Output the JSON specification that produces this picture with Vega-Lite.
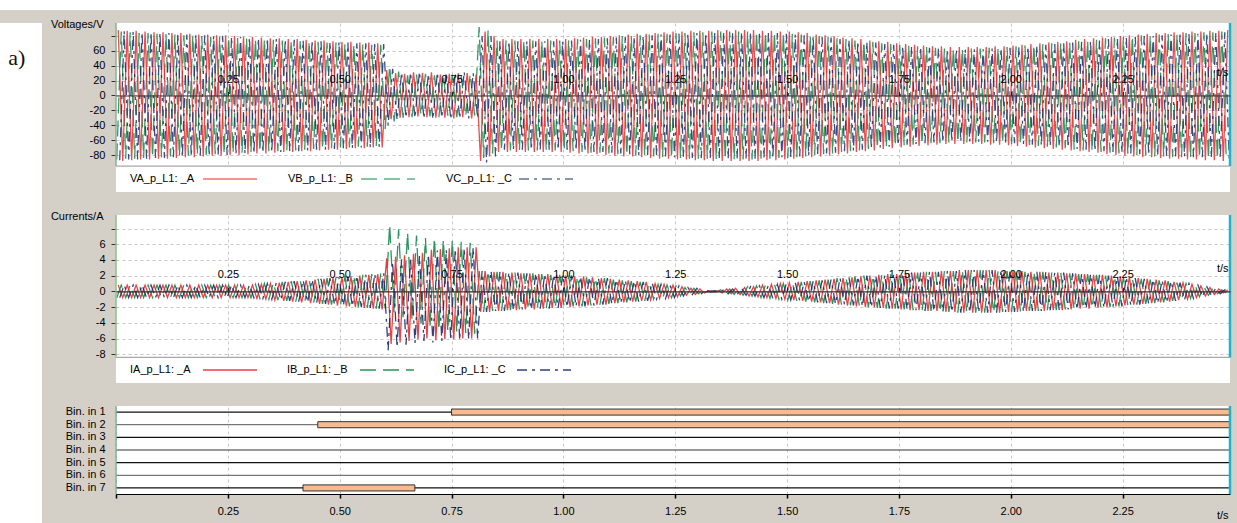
{
"$schema":"https://vega.github.io/schema/vega-lite/v6.json",
"background":"#d4d0c8",
"padding":0,
"config":{
 "font":"Liberation Sans",
 "view":{"stroke":null},
 "axis":{"labelFont":"Liberation Sans","labelFontSize":11,"labelColor":"#000","titleFont":"Liberation Sans","titleFontSize":11,"titleFontWeight":"normal","titleColor":"#000","gridColor":"#c8c8c8","gridDash":[3,3],"gridWidth":1,"tickColor":"#333","labelFlush":false,"labelOverlap":false},
 "legend":{"labelFont":"Liberation Sans","labelFontSize":11,"labelColor":"#000"}
},
"datasets":{
"volt":[
{"t":1.7,"VB":-86},{"t":5,"VA":88},{"t":8.3,"VC":-87},
{"t":11.7,"VB":86},{"t":15,"VA":-88},{"t":18.3,"VC":87},
{"t":21.7,"VB":-85},{"t":25,"VA":87},{"t":28.3,"VC":-86},
{"t":31.7,"VB":85},{"t":35,"VA":-87},{"t":38.3,"VC":86},
{"t":41.7,"VB":-85},{"t":45,"VA":87},{"t":48.3,"VC":-86},
{"t":51.7,"VB":84},{"t":55,"VA":-86},{"t":58.3,"VC":85},
{"t":61.7,"VB":-84},{"t":65,"VA":86},{"t":68.3,"VC":-85},
{"t":71.7,"VB":84},{"t":75,"VA":-86},{"t":78.3,"VC":85},
{"t":81.7,"VB":-83},{"t":85,"VA":85},{"t":88.3,"VC":-84},
{"t":91.7,"VB":83},{"t":95,"VA":-85},{"t":98.3,"VC":84},
{"t":101.7,"VB":-83},{"t":105,"VA":85},{"t":108.3,"VC":-84},
{"t":111.7,"VB":83},{"t":115,"VA":-85},{"t":118.3,"VC":84},
{"t":121.7,"VB":-82},{"t":125,"VA":84},{"t":128.3,"VC":-83},
{"t":131.7,"VB":82},{"t":135,"VA":-84},{"t":138.3,"VC":83},
{"t":141.7,"VB":-82},{"t":145,"VA":84},{"t":148.3,"VC":-83},
{"t":151.7,"VB":81},{"t":155,"VA":-83},{"t":158.3,"VC":82},
{"t":161.7,"VB":-81},{"t":165,"VA":83},{"t":168.3,"VC":-82},
{"t":171.7,"VB":81},{"t":175,"VA":-83},{"t":178.3,"VC":82},
{"t":181.7,"VB":-80},{"t":185,"VA":82},{"t":188.3,"VC":-81},
{"t":191.7,"VB":80},{"t":195,"VA":-82},{"t":198.3,"VC":81},
{"t":201.7,"VB":-80},{"t":205,"VA":82},{"t":208.3,"VC":-81},
{"t":211.7,"VB":79},{"t":215,"VA":-81},{"t":218.3,"VC":80},
{"t":221.7,"VB":-79},{"t":225,"VA":81},{"t":228.3,"VC":-80},
{"t":231.7,"VB":79},{"t":235,"VA":-81},{"t":238.3,"VC":80},
{"t":241.7,"VB":-79},{"t":245,"VA":81},{"t":248.3,"VC":-80},
{"t":251.7,"VB":78},{"t":255,"VA":-80},{"t":258.3,"VC":79},
{"t":261.7,"VB":-78},{"t":265,"VA":80},{"t":268.3,"VC":-79},
{"t":271.7,"VB":78},{"t":275,"VA":-80},{"t":278.3,"VC":79},
{"t":281.7,"VB":-77},{"t":285,"VA":79},{"t":288.3,"VC":-78},
{"t":291.7,"VB":77},{"t":295,"VA":-79},{"t":298.3,"VC":78},
{"t":301.7,"VB":-77},{"t":305,"VA":79},{"t":308.3,"VC":-78},
{"t":311.7,"VB":76},{"t":315,"VA":-78},{"t":318.3,"VC":77},
{"t":321.7,"VB":-76},{"t":325,"VA":78},{"t":328.3,"VC":-77},
{"t":331.7,"VB":76},{"t":335,"VA":-78},{"t":338.3,"VC":77},
{"t":341.7,"VB":-75},{"t":345,"VA":77},{"t":348.3,"VC":-76},
{"t":351.7,"VB":75},{"t":355,"VA":-77},{"t":358.3,"VC":76},
{"t":361.7,"VB":-75},{"t":365,"VA":77},{"t":368.3,"VC":-76},
{"t":371.7,"VB":74},{"t":375,"VA":-76},{"t":378.3,"VC":75},
{"t":381.7,"VB":-74},{"t":385,"VA":76},{"t":388.3,"VC":-75},
{"t":391.7,"VB":74},{"t":395,"VA":-76},{"t":398.3,"VC":75},
{"t":401.7,"VB":-74},{"t":405,"VA":76},{"t":408.3,"VC":-75},
{"t":411.7,"VB":73},{"t":415,"VA":-75},{"t":418.3,"VC":74},
{"t":421.7,"VB":-73},{"t":425,"VA":75},{"t":428.3,"VC":-74},
{"t":431.7,"VB":73},{"t":435,"VA":-75},{"t":438.3,"VC":74},
{"t":441.7,"VB":-72},{"t":445,"VA":74},{"t":448.3,"VC":-73},
{"t":451.7,"VB":72},{"t":455,"VA":-74},{"t":458.3,"VC":73},
{"t":461.7,"VB":-72},{"t":465,"VA":74},{"t":468.3,"VC":-73},
{"t":471.7,"VB":71},{"t":475,"VA":-73},{"t":478.3,"VC":72},
{"t":481.7,"VB":-71},{"t":485,"VA":73},{"t":488.3,"VC":-72},
{"t":491.7,"VB":71},{"t":495,"VA":-73},{"t":498.3,"VC":72},
{"t":501.7,"VB":-70},{"t":505,"VA":72},{"t":508.3,"VC":-71},
{"t":511.7,"VB":70},{"t":515,"VA":-72},{"t":518.3,"VC":71},
{"t":521.7,"VB":-70},{"t":525,"VA":72},{"t":528.3,"VC":-71},
{"t":531.7,"VB":69},{"t":535,"VA":-71},{"t":538.3,"VC":70},
{"t":541.7,"VB":-69},{"t":545,"VA":71},{"t":548.3,"VC":-70},
{"t":551.7,"VB":69},{"t":555,"VA":-71},{"t":558.3,"VC":70},
{"t":561.7,"VB":-69},{"t":565,"VA":71},{"t":568.3,"VC":-70},
{"t":571.7,"VB":68},{"t":575,"VA":-70},{"t":578.3,"VC":69},
{"t":581.7,"VB":-68},{"t":585,"VA":70},{"t":588.3,"VC":-69},
{"t":591.7,"VB":68},{"t":595,"VA":-70},{"t":598.3,"VC":69},
{"t":601.7,"VB":-45},{"t":605,"VA":34},{"t":608.3,"VC":-40},
{"t":611.7,"VB":40},{"t":615,"VA":-32},{"t":618.3,"VC":36},
{"t":621.7,"VB":-35},{"t":625,"VA":30},{"t":628.3,"VC":-33},
{"t":631.7,"VB":32},{"t":635,"VA":-30},{"t":638.3,"VC":31},
{"t":641.7,"VB":-30},{"t":645,"VA":29},{"t":648.3,"VC":-30},
{"t":651.7,"VB":27},{"t":655,"VA":-29},{"t":658.3,"VC":31},
{"t":661.7,"VB":-29},{"t":665,"VA":31},{"t":668.3,"VC":-30},
{"t":671.7,"VB":28},{"t":675,"VA":-28},{"t":678.3,"VC":32},
{"t":681.7,"VB":-26},{"t":685,"VA":30},{"t":688.3,"VC":-31},
{"t":691.7,"VB":29},{"t":695,"VA":-29},{"t":698.3,"VC":29},
{"t":701.7,"VB":-28},{"t":705,"VA":31},{"t":708.3,"VC":-32},
{"t":711.7,"VB":27},{"t":715,"VA":-30},{"t":718.3,"VC":31},
{"t":721.7,"VB":-29},{"t":725,"VA":28},{"t":728.3,"VC":-30},
{"t":731.7,"VB":28},{"t":735,"VA":-30},{"t":738.3,"VC":31},
{"t":741.7,"VB":-27},{"t":745,"VA":29},{"t":748.3,"VC":-32},
{"t":751.7,"VB":28},{"t":755,"VA":-31},{"t":758.3,"VC":30},
{"t":761.7,"VB":-29},{"t":765,"VA":30},{"t":768.3,"VC":-31},
{"t":771.7,"VB":27},{"t":775,"VA":-29},{"t":778.3,"VC":32},
{"t":781.7,"VB":-28},{"t":785,"VA":30},{"t":788.3,"VC":-31},
{"t":791.7,"VB":29},{"t":795,"VA":-31},{"t":798.3,"VC":30},
{"t":801.7,"VB":-27},{"t":805,"VA":28},{"t":808.3,"VC":-30},
{"t":811.7,"VB":92},{"t":815,"VA":-88},{"t":818.3,"VC":80},
{"t":821.7,"VB":-84},{"t":825,"VA":86},{"t":828.3,"VC":-90},
{"t":831.7,"VB":88},{"t":835,"VA":-82},{"t":838.3,"VC":80},
{"t":841.7,"VB":-78},{"t":845,"VA":80},{"t":848.3,"VC":-82},
{"t":851.7,"VB":74},{"t":855,"VA":-76},{"t":858.3,"VC":73},
{"t":861.7,"VB":-74},{"t":865,"VA":76},{"t":868.3,"VC":-73},
{"t":871.7,"VB":74},{"t":875,"VA":-76},{"t":878.3,"VC":73},
{"t":881.7,"VB":-74},{"t":885,"VA":76},{"t":888.3,"VC":-73},
{"t":891.7,"VB":74},{"t":895,"VA":-76},{"t":898.3,"VC":73},
{"t":901.7,"VB":-74},{"t":905,"VA":76},{"t":908.3,"VC":-73},
{"t":911.7,"VB":74},{"t":915,"VA":-76},{"t":918.3,"VC":73},
{"t":921.7,"VB":-74},{"t":925,"VA":76},{"t":928.3,"VC":-73},
{"t":931.7,"VB":74},{"t":935,"VA":-76},{"t":938.3,"VC":73},
{"t":941.7,"VB":-74},{"t":945,"VA":76},{"t":948.3,"VC":-73},
{"t":951.7,"VB":74},{"t":955,"VA":-76},{"t":958.3,"VC":73},
{"t":961.7,"VB":-74},{"t":965,"VA":76},{"t":968.3,"VC":-73},
{"t":971.7,"VB":74},{"t":975,"VA":-76},{"t":978.3,"VC":73},
{"t":981.7,"VB":-74},{"t":985,"VA":76},{"t":988.3,"VC":-73},
{"t":991.7,"VB":74},{"t":995,"VA":-76},{"t":998.3,"VC":73},
{"t":1001.7,"VB":-74},{"t":1005,"VA":76},{"t":1008.3,"VC":-73},
{"t":1011.7,"VB":75},{"t":1015,"VA":-77},{"t":1018.3,"VC":74},
{"t":1021.7,"VB":-75},{"t":1025,"VA":77},{"t":1028.3,"VC":-74},
{"t":1031.7,"VB":76},{"t":1035,"VA":-78},{"t":1038.3,"VC":75},
{"t":1041.7,"VB":-76},{"t":1045,"VA":78},{"t":1048.3,"VC":-75},
{"t":1051.7,"VB":76},{"t":1055,"VA":-78},{"t":1058.3,"VC":75},
{"t":1061.7,"VB":-77},{"t":1065,"VA":79},{"t":1068.3,"VC":-76},
{"t":1071.7,"VB":77},{"t":1075,"VA":-79},{"t":1078.3,"VC":76},
{"t":1081.7,"VB":-77},{"t":1085,"VA":79},{"t":1088.3,"VC":-76},
{"t":1091.7,"VB":78},{"t":1095,"VA":-80},{"t":1098.3,"VC":77},
{"t":1101.7,"VB":-78},{"t":1105,"VA":80},{"t":1108.3,"VC":-77},
{"t":1111.7,"VB":79},{"t":1115,"VA":-81},{"t":1118.3,"VC":78},
{"t":1121.7,"VB":-79},{"t":1125,"VA":81},{"t":1128.3,"VC":-78},
{"t":1131.7,"VB":80},{"t":1135,"VA":-82},{"t":1138.3,"VC":79},
{"t":1141.7,"VB":-80},{"t":1145,"VA":82},{"t":1148.3,"VC":-79},
{"t":1151.7,"VB":80},{"t":1155,"VA":-82},{"t":1158.3,"VC":79},
{"t":1161.7,"VB":-81},{"t":1165,"VA":83},{"t":1168.3,"VC":-80},
{"t":1171.7,"VB":81},{"t":1175,"VA":-83},{"t":1178.3,"VC":80},
{"t":1181.7,"VB":-81},{"t":1185,"VA":83},{"t":1188.3,"VC":-80},
{"t":1191.7,"VB":82},{"t":1195,"VA":-84},{"t":1198.3,"VC":81},
{"t":1201.7,"VB":-82},{"t":1205,"VA":84},{"t":1208.3,"VC":-81},
{"t":1211.7,"VB":83},{"t":1215,"VA":-85},{"t":1218.3,"VC":82},
{"t":1221.7,"VB":-83},{"t":1225,"VA":85},{"t":1228.3,"VC":-82},
{"t":1231.7,"VB":83},{"t":1235,"VA":-85},{"t":1238.3,"VC":82},
{"t":1241.7,"VB":-84},{"t":1245,"VA":86},{"t":1248.3,"VC":-83},
{"t":1251.7,"VB":84},{"t":1255,"VA":-86},{"t":1258.3,"VC":83},
{"t":1261.7,"VB":-84},{"t":1265,"VA":86},{"t":1268.3,"VC":-83},
{"t":1271.7,"VB":84},{"t":1275,"VA":-86},{"t":1278.3,"VC":83},
{"t":1281.7,"VB":-85},{"t":1285,"VA":87},{"t":1288.3,"VC":-84},
{"t":1291.7,"VB":85},{"t":1295,"VA":-87},{"t":1298.3,"VC":84},
{"t":1301.7,"VB":-85},{"t":1305,"VA":87},{"t":1308.3,"VC":-84},
{"t":1311.7,"VB":85},{"t":1315,"VA":-87},{"t":1318.3,"VC":84},
{"t":1321.7,"VB":-85},{"t":1325,"VA":87},{"t":1328.3,"VC":-84},
{"t":1331.7,"VB":86},{"t":1335,"VA":-88},{"t":1338.3,"VC":85},
{"t":1341.7,"VB":-86},{"t":1345,"VA":88},{"t":1348.3,"VC":-85},
{"t":1351.7,"VB":86},{"t":1355,"VA":-88},{"t":1358.3,"VC":85},
{"t":1361.7,"VB":-86},{"t":1365,"VA":88},{"t":1368.3,"VC":-85},
{"t":1371.7,"VB":86},{"t":1375,"VA":-88},{"t":1378.3,"VC":85},
{"t":1381.7,"VB":-86},{"t":1385,"VA":88},{"t":1388.3,"VC":-85},
{"t":1391.7,"VB":86},{"t":1395,"VA":-88},{"t":1398.3,"VC":85},
{"t":1401.7,"VB":-86},{"t":1405,"VA":88},{"t":1408.3,"VC":-85},
{"t":1411.7,"VB":86},{"t":1415,"VA":-88},{"t":1418.3,"VC":85},
{"t":1421.7,"VB":-86},{"t":1425,"VA":88},{"t":1428.3,"VC":-85},
{"t":1431.7,"VB":86},{"t":1435,"VA":-88},{"t":1438.3,"VC":85},
{"t":1441.7,"VB":-85},{"t":1445,"VA":87},{"t":1448.3,"VC":-84},
{"t":1451.7,"VB":85},{"t":1455,"VA":-87},{"t":1458.3,"VC":84},
{"t":1461.7,"VB":-85},{"t":1465,"VA":87},{"t":1468.3,"VC":-84},
{"t":1471.7,"VB":85},{"t":1475,"VA":-87},{"t":1478.3,"VC":84},
{"t":1481.7,"VB":-84},{"t":1485,"VA":86},{"t":1488.3,"VC":-83},
{"t":1491.7,"VB":84},{"t":1495,"VA":-86},{"t":1498.3,"VC":83},
{"t":1501.7,"VB":-84},{"t":1505,"VA":86},{"t":1508.3,"VC":-83},
{"t":1511.7,"VB":83},{"t":1515,"VA":-85},{"t":1518.3,"VC":82},
{"t":1521.7,"VB":-83},{"t":1525,"VA":85},{"t":1528.3,"VC":-82},
{"t":1531.7,"VB":82},{"t":1535,"VA":-84},{"t":1538.3,"VC":81},
{"t":1541.7,"VB":-82},{"t":1545,"VA":84},{"t":1548.3,"VC":-81},
{"t":1551.7,"VB":81},{"t":1555,"VA":-83},{"t":1558.3,"VC":80},
{"t":1561.7,"VB":-80},{"t":1565,"VA":82},{"t":1568.3,"VC":-79},
{"t":1571.7,"VB":80},{"t":1575,"VA":-82},{"t":1578.3,"VC":79},
{"t":1581.7,"VB":-79},{"t":1585,"VA":81},{"t":1588.3,"VC":-78},
{"t":1591.7,"VB":79},{"t":1595,"VA":-81},{"t":1598.3,"VC":78},
{"t":1601.7,"VB":-78},{"t":1605,"VA":80},{"t":1608.3,"VC":-77},
{"t":1611.7,"VB":77},{"t":1615,"VA":-79},{"t":1618.3,"VC":76},
{"t":1621.7,"VB":-76},{"t":1625,"VA":78},{"t":1628.3,"VC":-75},
{"t":1631.7,"VB":76},{"t":1635,"VA":-78},{"t":1638.3,"VC":75},
{"t":1641.7,"VB":-75},{"t":1645,"VA":77},{"t":1648.3,"VC":-74},
{"t":1651.7,"VB":74},{"t":1655,"VA":-76},{"t":1658.3,"VC":73},
{"t":1661.7,"VB":-74},{"t":1665,"VA":76},{"t":1668.3,"VC":-73},
{"t":1671.7,"VB":73},{"t":1675,"VA":-75},{"t":1678.3,"VC":72},
{"t":1681.7,"VB":-72},{"t":1685,"VA":74},{"t":1688.3,"VC":-71},
{"t":1691.7,"VB":72},{"t":1695,"VA":-74},{"t":1698.3,"VC":71},
{"t":1701.7,"VB":-71},{"t":1705,"VA":73},{"t":1708.3,"VC":-70},
{"t":1711.7,"VB":70},{"t":1715,"VA":-72},{"t":1718.3,"VC":69},
{"t":1721.7,"VB":-70},{"t":1725,"VA":72},{"t":1728.3,"VC":-69},
{"t":1731.7,"VB":69},{"t":1735,"VA":-71},{"t":1738.3,"VC":68},
{"t":1741.7,"VB":-68},{"t":1745,"VA":70},{"t":1748.3,"VC":-67},
{"t":1751.7,"VB":68},{"t":1755,"VA":-70},{"t":1758.3,"VC":67},
{"t":1761.7,"VB":-67},{"t":1765,"VA":69},{"t":1768.3,"VC":-66},
{"t":1771.7,"VB":67},{"t":1775,"VA":-69},{"t":1778.3,"VC":66},
{"t":1781.7,"VB":-66},{"t":1785,"VA":68},{"t":1788.3,"VC":-65},
{"t":1791.7,"VB":66},{"t":1795,"VA":-68},{"t":1798.3,"VC":65},
{"t":1801.7,"VB":-65},{"t":1805,"VA":67},{"t":1808.3,"VC":-64},
{"t":1811.7,"VB":65},{"t":1815,"VA":-67},{"t":1818.3,"VC":64},
{"t":1821.7,"VB":-64},{"t":1825,"VA":66},{"t":1828.3,"VC":-63},
{"t":1831.7,"VB":64},{"t":1835,"VA":-66},{"t":1838.3,"VC":63},
{"t":1841.7,"VB":-64},{"t":1845,"VA":66},{"t":1848.3,"VC":-63},
{"t":1851.7,"VB":63},{"t":1855,"VA":-65},{"t":1858.3,"VC":62},
{"t":1861.7,"VB":-63},{"t":1865,"VA":65},{"t":1868.3,"VC":-62},
{"t":1871.7,"VB":63},{"t":1875,"VA":-65},{"t":1878.3,"VC":62},
{"t":1881.7,"VB":-63},{"t":1885,"VA":65},{"t":1888.3,"VC":-62},
{"t":1891.7,"VB":63},{"t":1895,"VA":-65},{"t":1898.3,"VC":62},
{"t":1901.7,"VB":-63},{"t":1905,"VA":65},{"t":1908.3,"VC":-62},
{"t":1911.7,"VB":63},{"t":1915,"VA":-65},{"t":1918.3,"VC":62},
{"t":1921.7,"VB":-63},{"t":1925,"VA":65},{"t":1928.3,"VC":-62},
{"t":1931.7,"VB":63},{"t":1935,"VA":-65},{"t":1938.3,"VC":62},
{"t":1941.7,"VB":-63},{"t":1945,"VA":65},{"t":1948.3,"VC":-62},
{"t":1951.7,"VB":64},{"t":1955,"VA":-66},{"t":1958.3,"VC":63},
{"t":1961.7,"VB":-64},{"t":1965,"VA":66},{"t":1968.3,"VC":-63},
{"t":1971.7,"VB":64},{"t":1975,"VA":-66},{"t":1978.3,"VC":63},
{"t":1981.7,"VB":-64},{"t":1985,"VA":66},{"t":1988.3,"VC":-63},
{"t":1991.7,"VB":65},{"t":1995,"VA":-67},{"t":1998.3,"VC":64},
{"t":2001.7,"VB":-65},{"t":2005,"VA":67},{"t":2008.3,"VC":-64},
{"t":2011.7,"VB":66},{"t":2015,"VA":-68},{"t":2018.3,"VC":65},
{"t":2021.7,"VB":-66},{"t":2025,"VA":68},{"t":2028.3,"VC":-65},
{"t":2031.7,"VB":67},{"t":2035,"VA":-69},{"t":2038.3,"VC":66},
{"t":2041.7,"VB":-67},{"t":2045,"VA":69},{"t":2048.3,"VC":-66},
{"t":2051.7,"VB":68},{"t":2055,"VA":-70},{"t":2058.3,"VC":67},
{"t":2061.7,"VB":-68},{"t":2065,"VA":70},{"t":2068.3,"VC":-67},
{"t":2071.7,"VB":69},{"t":2075,"VA":-71},{"t":2078.3,"VC":68},
{"t":2081.7,"VB":-69},{"t":2085,"VA":71},{"t":2088.3,"VC":-68},
{"t":2091.7,"VB":70},{"t":2095,"VA":-72},{"t":2098.3,"VC":69},
{"t":2101.7,"VB":-70},{"t":2105,"VA":72},{"t":2108.3,"VC":-69},
{"t":2111.7,"VB":71},{"t":2115,"VA":-73},{"t":2118.3,"VC":70},
{"t":2121.7,"VB":-71},{"t":2125,"VA":73},{"t":2128.3,"VC":-70},
{"t":2131.7,"VB":72},{"t":2135,"VA":-74},{"t":2138.3,"VC":71},
{"t":2141.7,"VB":-73},{"t":2145,"VA":75},{"t":2148.3,"VC":-72},
{"t":2151.7,"VB":73},{"t":2155,"VA":-75},{"t":2158.3,"VC":72},
{"t":2161.7,"VB":-74},{"t":2165,"VA":76},{"t":2168.3,"VC":-73},
{"t":2171.7,"VB":74},{"t":2175,"VA":-76},{"t":2178.3,"VC":73},
{"t":2181.7,"VB":-75},{"t":2185,"VA":77},{"t":2188.3,"VC":-74},
{"t":2191.7,"VB":75},{"t":2195,"VA":-77},{"t":2198.3,"VC":74},
{"t":2201.7,"VB":-76},{"t":2205,"VA":78},{"t":2208.3,"VC":-75},
{"t":2211.7,"VB":77},{"t":2215,"VA":-79},{"t":2218.3,"VC":76},
{"t":2221.7,"VB":-77},{"t":2225,"VA":79},{"t":2228.3,"VC":-76},
{"t":2231.7,"VB":78},{"t":2235,"VA":-80},{"t":2238.3,"VC":77},
{"t":2241.7,"VB":-78},{"t":2245,"VA":80},{"t":2248.3,"VC":-77},
{"t":2251.7,"VB":79},{"t":2255,"VA":-81},{"t":2258.3,"VC":78},
{"t":2261.7,"VB":-79},{"t":2265,"VA":81},{"t":2268.3,"VC":-78},
{"t":2271.7,"VB":80},{"t":2275,"VA":-82},{"t":2278.3,"VC":79},
{"t":2281.7,"VB":-80},{"t":2285,"VA":82},{"t":2288.3,"VC":-79},
{"t":2291.7,"VB":81},{"t":2295,"VA":-83},{"t":2298.3,"VC":80},
{"t":2301.7,"VB":-81},{"t":2305,"VA":83},{"t":2308.3,"VC":-80},
{"t":2311.7,"VB":81},{"t":2315,"VA":-83},{"t":2318.3,"VC":80},
{"t":2321.7,"VB":-82},{"t":2325,"VA":84},{"t":2328.3,"VC":-81},
{"t":2331.7,"VB":82},{"t":2335,"VA":-84},{"t":2338.3,"VC":81},
{"t":2341.7,"VB":-82},{"t":2345,"VA":84},{"t":2348.3,"VC":-81},
{"t":2351.7,"VB":83},{"t":2355,"VA":-85},{"t":2358.3,"VC":82},
{"t":2361.7,"VB":-83},{"t":2365,"VA":85},{"t":2368.3,"VC":-82},
{"t":2371.7,"VB":83},{"t":2375,"VA":-85},{"t":2378.3,"VC":82},
{"t":2381.7,"VB":-83},{"t":2385,"VA":85},{"t":2388.3,"VC":-82},
{"t":2391.7,"VB":84},{"t":2395,"VA":-86},{"t":2398.3,"VC":83},
{"t":2401.7,"VB":-84},{"t":2405,"VA":86},{"t":2408.3,"VC":-83},
{"t":2411.7,"VB":84},{"t":2415,"VA":-86},{"t":2418.3,"VC":83},
{"t":2421.7,"VB":-84},{"t":2425,"VA":86},{"t":2428.3,"VC":-83},
{"t":2431.7,"VB":85},{"t":2435,"VA":-87},{"t":2438.3,"VC":84},
{"t":2441.7,"VB":-85},{"t":2445,"VA":87},{"t":2448.3,"VC":-84},
{"t":2451.7,"VB":85},{"t":2455,"VA":-87},{"t":2458.3,"VC":84},
{"t":2461.7,"VB":-85},{"t":2465,"VA":87},{"t":2468.3,"VC":-84},
{"t":2471.7,"VB":86},{"t":2475,"VA":-88},{"t":2478.3,"VC":85},
{"t":2481.7,"VB":-86},{"t":2485,"VA":88},{"t":2488.3,"VC":-85}
],
"curr":[
{"t":1.7,"IB":-0.8},{"t":5,"IA":0.8},{"t":8.3,"IC":-0.8},
{"t":11.7,"IB":0.8},{"t":15,"IA":-0.8},{"t":18.3,"IC":0.8},
{"t":21.7,"IB":-0.8},{"t":25,"IA":0.8},{"t":28.3,"IC":-0.8},
{"t":31.7,"IB":0.8},{"t":35,"IA":-0.8},{"t":38.3,"IC":0.8},
{"t":41.7,"IB":-0.8},{"t":45,"IA":0.8},{"t":48.3,"IC":-0.8},
{"t":51.7,"IB":0.8},{"t":55,"IA":-0.8},{"t":58.3,"IC":0.8},
{"t":61.7,"IB":-0.8},{"t":65,"IA":0.8},{"t":68.3,"IC":-0.8},
{"t":71.7,"IB":0.8},{"t":75,"IA":-0.8},{"t":78.3,"IC":0.8},
{"t":81.7,"IB":-0.8},{"t":85,"IA":0.8},{"t":88.3,"IC":-0.8},
{"t":91.7,"IB":0.8},{"t":95,"IA":-0.8},{"t":98.3,"IC":0.8},
{"t":101.7,"IB":-0.8},{"t":105,"IA":0.8},{"t":108.3,"IC":-0.8},
{"t":111.7,"IB":0.8},{"t":115,"IA":-0.8},{"t":118.3,"IC":0.8},
{"t":121.7,"IB":-0.8},{"t":125,"IA":0.8},{"t":128.3,"IC":-0.8},
{"t":131.7,"IB":0.8},{"t":135,"IA":-0.8},{"t":138.3,"IC":0.8},
{"t":141.7,"IB":-0.8},{"t":145,"IA":0.8},{"t":148.3,"IC":-0.8},
{"t":151.7,"IB":0.8},{"t":155,"IA":-0.8},{"t":158.3,"IC":0.8},
{"t":161.7,"IB":-0.8},{"t":165,"IA":0.8},{"t":168.3,"IC":-0.8},
{"t":171.7,"IB":0.8},{"t":175,"IA":-0.8},{"t":178.3,"IC":0.8},
{"t":181.7,"IB":-0.8},{"t":185,"IA":0.8},{"t":188.3,"IC":-0.8},
{"t":191.7,"IB":0.8},{"t":195,"IA":-0.8},{"t":198.3,"IC":0.8},
{"t":201.7,"IB":-0.8},{"t":205,"IA":0.8},{"t":208.3,"IC":-0.8},
{"t":211.7,"IB":0.8},{"t":215,"IA":-0.8},{"t":218.3,"IC":0.8},
{"t":221.7,"IB":-0.8},{"t":225,"IA":0.8},{"t":228.3,"IC":-0.8},
{"t":231.7,"IB":0.8},{"t":235,"IA":-0.8},{"t":238.3,"IC":0.8},
{"t":241.7,"IB":-0.8},{"t":245,"IA":0.8},{"t":248.3,"IC":-0.8},
{"t":251.7,"IB":0.8},{"t":255,"IA":-0.8},{"t":258.3,"IC":0.8},
{"t":261.7,"IB":-0.8},{"t":265,"IA":0.8},{"t":268.3,"IC":-0.8},
{"t":271.7,"IB":0.8},{"t":275,"IA":-0.8},{"t":278.3,"IC":0.8},
{"t":281.7,"IB":-0.8},{"t":285,"IA":0.8},{"t":288.3,"IC":-0.8},
{"t":291.7,"IB":0.8},{"t":295,"IA":-0.8},{"t":298.3,"IC":0.8},
{"t":301.7,"IB":-0.8},{"t":305,"IA":0.8},{"t":308.3,"IC":-0.8},
{"t":311.7,"IB":0.9},{"t":315,"IA":-0.9},{"t":318.3,"IC":0.9},
{"t":321.7,"IB":-0.9},{"t":325,"IA":0.9},{"t":328.3,"IC":-0.9},
{"t":331.7,"IB":1},{"t":335,"IA":-1},{"t":338.3,"IC":1},
{"t":341.7,"IB":-1},{"t":345,"IA":1},{"t":348.3,"IC":-1},
{"t":351.7,"IB":1.1},{"t":355,"IA":-1.1},{"t":358.3,"IC":1.1},
{"t":361.7,"IB":-1.1},{"t":365,"IA":1.1},{"t":368.3,"IC":-1.1},
{"t":371.7,"IB":1.2},{"t":375,"IA":-1.2},{"t":378.3,"IC":1.2},
{"t":381.7,"IB":-1.2},{"t":385,"IA":1.2},{"t":388.3,"IC":-1.2},
{"t":391.7,"IB":1.3},{"t":395,"IA":-1.3},{"t":398.3,"IC":1.3},
{"t":401.7,"IB":-1.3},{"t":405,"IA":1.3},{"t":408.3,"IC":-1.3},
{"t":411.7,"IB":1.4},{"t":415,"IA":-1.4},{"t":418.3,"IC":1.4},
{"t":421.7,"IB":-1.4},{"t":425,"IA":1.4},{"t":428.3,"IC":-1.4},
{"t":431.7,"IB":1.5},{"t":435,"IA":-1.5},{"t":438.3,"IC":1.5},
{"t":441.7,"IB":-1.5},{"t":445,"IA":1.5},{"t":448.3,"IC":-1.5},
{"t":451.7,"IB":1.6},{"t":455,"IA":-1.6},{"t":458.3,"IC":1.6},
{"t":461.7,"IB":-1.6},{"t":465,"IA":1.6},{"t":468.3,"IC":-1.6},
{"t":471.7,"IB":1.7},{"t":475,"IA":-1.7},{"t":478.3,"IC":1.7},
{"t":481.7,"IB":-1.7},{"t":485,"IA":1.7},{"t":488.3,"IC":-1.7},
{"t":491.7,"IB":1.8},{"t":495,"IA":-1.8},{"t":498.3,"IC":1.8},
{"t":501.7,"IB":-1.8},{"t":505,"IA":1.8},{"t":508.3,"IC":-1.8},
{"t":511.7,"IB":1.9},{"t":515,"IA":-1.9},{"t":518.3,"IC":1.9},
{"t":521.7,"IB":-1.9},{"t":525,"IA":1.9},{"t":528.3,"IC":-1.9},
{"t":531.7,"IB":2},{"t":535,"IA":-2},{"t":538.3,"IC":2},
{"t":541.7,"IB":-2},{"t":545,"IA":2},{"t":548.3,"IC":-2},
{"t":551.7,"IB":2.1},{"t":555,"IA":-2.1},{"t":558.3,"IC":2.1},
{"t":561.7,"IB":-2.1},{"t":565,"IA":2.1},{"t":568.3,"IC":-2.1},
{"t":571.7,"IB":2.2},{"t":575,"IA":-2.2},{"t":578.3,"IC":2.2},
{"t":581.7,"IB":-2.2},{"t":585,"IA":2.2},{"t":588.3,"IC":-2.2},
{"t":591.7,"IB":2.3},{"t":595,"IA":-2.3},{"t":598.3,"IC":2.3},
{"t":601.7,"IB":-2.2},{"t":605,"IA":4.2},{"t":608.3,"IC":-7.5},
{"t":611.7,"IB":8.5},{"t":615,"IA":-6.7},{"t":618.3,"IC":3.7},
{"t":621.7,"IB":-2.8},{"t":625,"IA":4.4},{"t":628.3,"IC":-7.1},
{"t":631.7,"IB":7.9},{"t":635,"IA":-6.5},{"t":638.3,"IC":4.1},
{"t":641.7,"IB":-3.3},{"t":645,"IA":4.6},{"t":648.3,"IC":-6.8},
{"t":651.7,"IB":7.5},{"t":655,"IA":-6.3},{"t":658.3,"IC":4.3},
{"t":661.7,"IB":-3.7},{"t":665,"IA":4.8},{"t":668.3,"IC":-6.6},
{"t":671.7,"IB":7.1},{"t":675,"IA":-6.1},{"t":678.3,"IC":4.5},
{"t":681.7,"IB":-4.1},{"t":685,"IA":4.9},{"t":688.3,"IC":-6.3},
{"t":691.7,"IB":6.8},{"t":695,"IA":-6.0},{"t":698.3,"IC":4.7},
{"t":701.7,"IB":-4.6},{"t":705,"IA":5.3},{"t":708.3,"IC":-6.5},
{"t":711.7,"IB":6.8},{"t":715,"IA":-6.2},{"t":718.3,"IC":5.2},
{"t":721.7,"IB":-4.9},{"t":725,"IA":5.4},{"t":728.3,"IC":-6.3},
{"t":731.7,"IB":6.6},{"t":735,"IA":-6.1},{"t":738.3,"IC":5.3},
{"t":741.7,"IB":-5.1},{"t":745,"IA":5.5},{"t":748.3,"IC":-6.2},
{"t":751.7,"IB":6.5},{"t":755,"IA":-6.1},{"t":758.3,"IC":5.4},
{"t":761.7,"IB":-5.2},{"t":765,"IA":5.6},{"t":768.3,"IC":-6.2},
{"t":771.7,"IB":6.3},{"t":775,"IA":-6.0},{"t":778.3,"IC":5.5},
{"t":781.7,"IB":-5.3},{"t":785,"IA":5.6},{"t":788.3,"IC":-6.1},
{"t":791.7,"IB":6.2},{"t":795,"IA":-6.0},{"t":798.3,"IC":5.6},
{"t":801.7,"IB":-5.4},{"t":805,"IA":5.6},{"t":808.3,"IC":-6.0},
{"t":811.7,"IB":2.6},{"t":815,"IA":-2.6},{"t":818.3,"IC":2.6},
{"t":821.7,"IB":-2.6},{"t":825,"IA":2.6},{"t":828.3,"IC":-2.6},
{"t":831.7,"IB":2.6},{"t":835,"IA":-2.6},{"t":838.3,"IC":2.6},
{"t":841.7,"IB":-2.5},{"t":845,"IA":2.5},{"t":848.3,"IC":-2.5},
{"t":851.7,"IB":2.5},{"t":855,"IA":-2.5},{"t":858.3,"IC":2.5},
{"t":861.7,"IB":-2.5},{"t":865,"IA":2.5},{"t":868.3,"IC":-2.5},
{"t":871.7,"IB":2.4},{"t":875,"IA":-2.4},{"t":878.3,"IC":2.4},
{"t":881.7,"IB":-2.4},{"t":885,"IA":2.4},{"t":888.3,"IC":-2.4},
{"t":891.7,"IB":2.4},{"t":895,"IA":-2.4},{"t":898.3,"IC":2.4},
{"t":901.7,"IB":-2.3},{"t":905,"IA":2.3},{"t":908.3,"IC":-2.3},
{"t":911.7,"IB":2.3},{"t":915,"IA":-2.3},{"t":918.3,"IC":2.3},
{"t":921.7,"IB":-2.3},{"t":925,"IA":2.3},{"t":928.3,"IC":-2.3},
{"t":931.7,"IB":2.3},{"t":935,"IA":-2.3},{"t":938.3,"IC":2.3},
{"t":941.7,"IB":-2.2},{"t":945,"IA":2.2},{"t":948.3,"IC":-2.2},
{"t":951.7,"IB":2.2},{"t":955,"IA":-2.2},{"t":958.3,"IC":2.2},
{"t":961.7,"IB":-2.2},{"t":965,"IA":2.2},{"t":968.3,"IC":-2.2},
{"t":971.7,"IB":2.1},{"t":975,"IA":-2.1},{"t":978.3,"IC":2.1},
{"t":981.7,"IB":-2.1},{"t":985,"IA":2.1},{"t":988.3,"IC":-2.1},
{"t":991.7,"IB":2.1},{"t":995,"IA":-2.1},{"t":998.3,"IC":2.1},
{"t":1001.7,"IB":-2},{"t":1005,"IA":2},{"t":1008.3,"IC":-2},
{"t":1011.7,"IB":2},{"t":1015,"IA":-2},{"t":1018.3,"IC":2},
{"t":1021.7,"IB":-1.9},{"t":1025,"IA":1.9},{"t":1028.3,"IC":-1.9},
{"t":1031.7,"IB":1.9},{"t":1035,"IA":-1.9},{"t":1038.3,"IC":1.9},
{"t":1041.7,"IB":-1.9},{"t":1045,"IA":1.9},{"t":1048.3,"IC":-1.9},
{"t":1051.7,"IB":1.8},{"t":1055,"IA":-1.8},{"t":1058.3,"IC":1.8},
{"t":1061.7,"IB":-1.8},{"t":1065,"IA":1.8},{"t":1068.3,"IC":-1.8},
{"t":1071.7,"IB":1.7},{"t":1075,"IA":-1.7},{"t":1078.3,"IC":1.7},
{"t":1081.7,"IB":-1.7},{"t":1085,"IA":1.7},{"t":1088.3,"IC":-1.7},
{"t":1091.7,"IB":1.7},{"t":1095,"IA":-1.7},{"t":1098.3,"IC":1.7},
{"t":1101.7,"IB":-1.6},{"t":1105,"IA":1.6},{"t":1108.3,"IC":-1.6},
{"t":1111.7,"IB":1.5},{"t":1115,"IA":-1.5},{"t":1118.3,"IC":1.5},
{"t":1121.7,"IB":-1.5},{"t":1125,"IA":1.5},{"t":1128.3,"IC":-1.5},
{"t":1131.7,"IB":1.4},{"t":1135,"IA":-1.4},{"t":1138.3,"IC":1.4},
{"t":1141.7,"IB":-1.4},{"t":1145,"IA":1.4},{"t":1148.3,"IC":-1.4},
{"t":1151.7,"IB":1.3},{"t":1155,"IA":-1.3},{"t":1158.3,"IC":1.3},
{"t":1161.7,"IB":-1.3},{"t":1165,"IA":1.3},{"t":1168.3,"IC":-1.3},
{"t":1171.7,"IB":1.2},{"t":1175,"IA":-1.2},{"t":1178.3,"IC":1.2},
{"t":1181.7,"IB":-1.2},{"t":1185,"IA":1.2},{"t":1188.3,"IC":-1.2},
{"t":1191.7,"IB":1.1},{"t":1195,"IA":-1.1},{"t":1198.3,"IC":1.1},
{"t":1201.7,"IB":-1},{"t":1205,"IA":1},{"t":1208.3,"IC":-1},
{"t":1211.7,"IB":0.9},{"t":1215,"IA":-0.9},{"t":1218.3,"IC":0.9},
{"t":1221.7,"IB":-0.9},{"t":1225,"IA":0.9},{"t":1228.3,"IC":-0.9},
{"t":1231.7,"IB":0.8},{"t":1235,"IA":-0.8},{"t":1238.3,"IC":0.8},
{"t":1241.7,"IB":-0.8},{"t":1245,"IA":0.8},{"t":1248.3,"IC":-0.8},
{"t":1251.7,"IB":0.7},{"t":1255,"IA":-0.7},{"t":1258.3,"IC":0.7},
{"t":1261.7,"IB":-0.6},{"t":1265,"IA":0.6},{"t":1268.3,"IC":-0.6},
{"t":1271.7,"IB":0.5},{"t":1275,"IA":-0.5},{"t":1278.3,"IC":0.5},
{"t":1281.7,"IB":-0.4},{"t":1285,"IA":0.4},{"t":1288.3,"IC":-0.4},
{"t":1291.7,"IB":0.4},{"t":1295,"IA":-0.4},{"t":1298.3,"IC":0.4},
{"t":1301.7,"IB":-0.3},{"t":1305,"IA":0.3},{"t":1308.3,"IC":-0.3},
{"t":1311.7,"IB":0.2},{"t":1315,"IA":-0.2},{"t":1318.3,"IC":0.2},
{"t":1321.7,"IB":-0.1},{"t":1325,"IA":0.1},{"t":1328.3,"IC":-0.1},
{"t":1331.7,"IB":0.1},{"t":1335,"IA":-0.1},{"t":1338.3,"IC":0.1},
{"t":1341.7,"IB":-0.1},{"t":1345,"IA":0.1},{"t":1348.3,"IC":-0.1},
{"t":1351.7,"IB":0.2},{"t":1355,"IA":-0.2},{"t":1358.3,"IC":0.2},
{"t":1361.7,"IB":-0.3},{"t":1365,"IA":0.3},{"t":1368.3,"IC":-0.3},
{"t":1371.7,"IB":0.3},{"t":1375,"IA":-0.3},{"t":1378.3,"IC":0.3},
{"t":1381.7,"IB":-0.4},{"t":1385,"IA":0.4},{"t":1388.3,"IC":-0.4},
{"t":1391.7,"IB":0.4},{"t":1395,"IA":-0.4},{"t":1398.3,"IC":0.4},
{"t":1401.7,"IB":-0.5},{"t":1405,"IA":0.5},{"t":1408.3,"IC":-0.5},
{"t":1411.7,"IB":0.6},{"t":1415,"IA":-0.6},{"t":1418.3,"IC":0.6},
{"t":1421.7,"IB":-0.6},{"t":1425,"IA":0.6},{"t":1428.3,"IC":-0.6},
{"t":1431.7,"IB":0.7},{"t":1435,"IA":-0.7},{"t":1438.3,"IC":0.7},
{"t":1441.7,"IB":-0.8},{"t":1445,"IA":0.8},{"t":1448.3,"IC":-0.8},
{"t":1451.7,"IB":0.8},{"t":1455,"IA":-0.8},{"t":1458.3,"IC":0.8},
{"t":1461.7,"IB":-0.9},{"t":1465,"IA":0.9},{"t":1468.3,"IC":-0.9},
{"t":1471.7,"IB":0.9},{"t":1475,"IA":-0.9},{"t":1478.3,"IC":0.9},
{"t":1481.7,"IB":-1},{"t":1485,"IA":1},{"t":1488.3,"IC":-1},
{"t":1491.7,"IB":1},{"t":1495,"IA":-1},{"t":1498.3,"IC":1},
{"t":1501.7,"IB":-1.1},{"t":1505,"IA":1.1},{"t":1508.3,"IC":-1.1},
{"t":1511.7,"IB":1.1},{"t":1515,"IA":-1.1},{"t":1518.3,"IC":1.1},
{"t":1521.7,"IB":-1.2},{"t":1525,"IA":1.2},{"t":1528.3,"IC":-1.2},
{"t":1531.7,"IB":1.2},{"t":1535,"IA":-1.2},{"t":1538.3,"IC":1.2},
{"t":1541.7,"IB":-1.3},{"t":1545,"IA":1.3},{"t":1548.3,"IC":-1.3},
{"t":1551.7,"IB":1.3},{"t":1555,"IA":-1.3},{"t":1558.3,"IC":1.3},
{"t":1561.7,"IB":-1.4},{"t":1565,"IA":1.4},{"t":1568.3,"IC":-1.4},
{"t":1571.7,"IB":1.4},{"t":1575,"IA":-1.4},{"t":1578.3,"IC":1.4},
{"t":1581.7,"IB":-1.5},{"t":1585,"IA":1.5},{"t":1588.3,"IC":-1.5},
{"t":1591.7,"IB":1.5},{"t":1595,"IA":-1.5},{"t":1598.3,"IC":1.5},
{"t":1601.7,"IB":-1.6},{"t":1605,"IA":1.6},{"t":1608.3,"IC":-1.6},
{"t":1611.7,"IB":1.7},{"t":1615,"IA":-1.7},{"t":1618.3,"IC":1.7},
{"t":1621.7,"IB":-1.7},{"t":1625,"IA":1.7},{"t":1628.3,"IC":-1.7},
{"t":1631.7,"IB":1.8},{"t":1635,"IA":-1.8},{"t":1638.3,"IC":1.8},
{"t":1641.7,"IB":-1.8},{"t":1645,"IA":1.8},{"t":1648.3,"IC":-1.8},
{"t":1651.7,"IB":1.9},{"t":1655,"IA":-1.9},{"t":1658.3,"IC":1.9},
{"t":1661.7,"IB":-1.9},{"t":1665,"IA":1.9},{"t":1668.3,"IC":-1.9},
{"t":1671.7,"IB":2},{"t":1675,"IA":-2},{"t":1678.3,"IC":2},
{"t":1681.7,"IB":-2},{"t":1685,"IA":2},{"t":1688.3,"IC":-2},
{"t":1691.7,"IB":2},{"t":1695,"IA":-2},{"t":1698.3,"IC":2},
{"t":1701.7,"IB":-2.1},{"t":1705,"IA":2.1},{"t":1708.3,"IC":-2.1},
{"t":1711.7,"IB":2.1},{"t":1715,"IA":-2.1},{"t":1718.3,"IC":2.1},
{"t":1721.7,"IB":-2.2},{"t":1725,"IA":2.2},{"t":1728.3,"IC":-2.2},
{"t":1731.7,"IB":2.2},{"t":1735,"IA":-2.2},{"t":1738.3,"IC":2.2},
{"t":1741.7,"IB":-2.2},{"t":1745,"IA":2.2},{"t":1748.3,"IC":-2.2},
{"t":1751.7,"IB":2.3},{"t":1755,"IA":-2.3},{"t":1758.3,"IC":2.3},
{"t":1761.7,"IB":-2.3},{"t":1765,"IA":2.3},{"t":1768.3,"IC":-2.3},
{"t":1771.7,"IB":2.4},{"t":1775,"IA":-2.4},{"t":1778.3,"IC":2.4},
{"t":1781.7,"IB":-2.4},{"t":1785,"IA":2.4},{"t":1788.3,"IC":-2.4},
{"t":1791.7,"IB":2.4},{"t":1795,"IA":-2.4},{"t":1798.3,"IC":2.4},
{"t":1801.7,"IB":-2.5},{"t":1805,"IA":2.5},{"t":1808.3,"IC":-2.5},
{"t":1811.7,"IB":2.5},{"t":1815,"IA":-2.5},{"t":1818.3,"IC":2.5},
{"t":1821.7,"IB":-2.5},{"t":1825,"IA":2.5},{"t":1828.3,"IC":-2.5},
{"t":1831.7,"IB":2.5},{"t":1835,"IA":-2.5},{"t":1838.3,"IC":2.5},
{"t":1841.7,"IB":-2.6},{"t":1845,"IA":2.6},{"t":1848.3,"IC":-2.6},
{"t":1851.7,"IB":2.6},{"t":1855,"IA":-2.6},{"t":1858.3,"IC":2.6},
{"t":1861.7,"IB":-2.6},{"t":1865,"IA":2.6},{"t":1868.3,"IC":-2.6},
{"t":1871.7,"IB":2.6},{"t":1875,"IA":-2.6},{"t":1878.3,"IC":2.6},
{"t":1881.7,"IB":-2.7},{"t":1885,"IA":2.7},{"t":1888.3,"IC":-2.7},
{"t":1891.7,"IB":2.7},{"t":1895,"IA":-2.7},{"t":1898.3,"IC":2.7},
{"t":1901.7,"IB":-2.7},{"t":1905,"IA":2.7},{"t":1908.3,"IC":-2.7},
{"t":1911.7,"IB":2.7},{"t":1915,"IA":-2.7},{"t":1918.3,"IC":2.7},
{"t":1921.7,"IB":-2.7},{"t":1925,"IA":2.7},{"t":1928.3,"IC":-2.7},
{"t":1931.7,"IB":2.7},{"t":1935,"IA":-2.7},{"t":1938.3,"IC":2.7},
{"t":1941.7,"IB":-2.7},{"t":1945,"IA":2.7},{"t":1948.3,"IC":-2.7},
{"t":1951.7,"IB":2.7},{"t":1955,"IA":-2.7},{"t":1958.3,"IC":2.7},
{"t":1961.7,"IB":-2.7},{"t":1965,"IA":2.7},{"t":1968.3,"IC":-2.7},
{"t":1971.7,"IB":2.7},{"t":1975,"IA":-2.7},{"t":1978.3,"IC":2.7},
{"t":1981.7,"IB":-2.6},{"t":1985,"IA":2.6},{"t":1988.3,"IC":-2.6},
{"t":1991.7,"IB":2.6},{"t":1995,"IA":-2.6},{"t":1998.3,"IC":2.6},
{"t":2001.7,"IB":-2.6},{"t":2005,"IA":2.6},{"t":2008.3,"IC":-2.6},
{"t":2011.7,"IB":2.6},{"t":2015,"IA":-2.6},{"t":2018.3,"IC":2.6},
{"t":2021.7,"IB":-2.6},{"t":2025,"IA":2.6},{"t":2028.3,"IC":-2.6},
{"t":2031.7,"IB":2.5},{"t":2035,"IA":-2.5},{"t":2038.3,"IC":2.5},
{"t":2041.7,"IB":-2.5},{"t":2045,"IA":2.5},{"t":2048.3,"IC":-2.5},
{"t":2051.7,"IB":2.5},{"t":2055,"IA":-2.5},{"t":2058.3,"IC":2.5},
{"t":2061.7,"IB":-2.5},{"t":2065,"IA":2.5},{"t":2068.3,"IC":-2.5},
{"t":2071.7,"IB":2.5},{"t":2075,"IA":-2.5},{"t":2078.3,"IC":2.5},
{"t":2081.7,"IB":-2.4},{"t":2085,"IA":2.4},{"t":2088.3,"IC":-2.4},
{"t":2091.7,"IB":2.4},{"t":2095,"IA":-2.4},{"t":2098.3,"IC":2.4},
{"t":2101.7,"IB":-2.4},{"t":2105,"IA":2.4},{"t":2108.3,"IC":-2.4},
{"t":2111.7,"IB":2.4},{"t":2115,"IA":-2.4},{"t":2118.3,"IC":2.4},
{"t":2121.7,"IB":-2.3},{"t":2125,"IA":2.3},{"t":2128.3,"IC":-2.3},
{"t":2131.7,"IB":2.3},{"t":2135,"IA":-2.3},{"t":2138.3,"IC":2.3},
{"t":2141.7,"IB":-2.3},{"t":2145,"IA":2.3},{"t":2148.3,"IC":-2.3},
{"t":2151.7,"IB":2.2},{"t":2155,"IA":-2.2},{"t":2158.3,"IC":2.2},
{"t":2161.7,"IB":-2.2},{"t":2165,"IA":2.2},{"t":2168.3,"IC":-2.2},
{"t":2171.7,"IB":2.2},{"t":2175,"IA":-2.2},{"t":2178.3,"IC":2.2},
{"t":2181.7,"IB":-2.1},{"t":2185,"IA":2.1},{"t":2188.3,"IC":-2.1},
{"t":2191.7,"IB":2.1},{"t":2195,"IA":-2.1},{"t":2198.3,"IC":2.1},
{"t":2201.7,"IB":-2.1},{"t":2205,"IA":2.1},{"t":2208.3,"IC":-2.1},
{"t":2211.7,"IB":2},{"t":2215,"IA":-2},{"t":2218.3,"IC":2},
{"t":2221.7,"IB":-2},{"t":2225,"IA":2},{"t":2228.3,"IC":-2},
{"t":2231.7,"IB":1.9},{"t":2235,"IA":-1.9},{"t":2238.3,"IC":1.9},
{"t":2241.7,"IB":-1.9},{"t":2245,"IA":1.9},{"t":2248.3,"IC":-1.9},
{"t":2251.7,"IB":1.8},{"t":2255,"IA":-1.8},{"t":2258.3,"IC":1.8},
{"t":2261.7,"IB":-1.8},{"t":2265,"IA":1.8},{"t":2268.3,"IC":-1.8},
{"t":2271.7,"IB":1.7},{"t":2275,"IA":-1.7},{"t":2278.3,"IC":1.7},
{"t":2281.7,"IB":-1.7},{"t":2285,"IA":1.7},{"t":2288.3,"IC":-1.7},
{"t":2291.7,"IB":1.6},{"t":2295,"IA":-1.6},{"t":2298.3,"IC":1.6},
{"t":2301.7,"IB":-1.6},{"t":2305,"IA":1.6},{"t":2308.3,"IC":-1.6},
{"t":2311.7,"IB":1.5},{"t":2315,"IA":-1.5},{"t":2318.3,"IC":1.5},
{"t":2321.7,"IB":-1.5},{"t":2325,"IA":1.5},{"t":2328.3,"IC":-1.5},
{"t":2331.7,"IB":1.4},{"t":2335,"IA":-1.4},{"t":2338.3,"IC":1.4},
{"t":2341.7,"IB":-1.4},{"t":2345,"IA":1.4},{"t":2348.3,"IC":-1.4},
{"t":2351.7,"IB":1.3},{"t":2355,"IA":-1.3},{"t":2358.3,"IC":1.3},
{"t":2361.7,"IB":-1.2},{"t":2365,"IA":1.2},{"t":2368.3,"IC":-1.2},
{"t":2371.7,"IB":1.1},{"t":2375,"IA":-1.1},{"t":2378.3,"IC":1.1},
{"t":2381.7,"IB":-1.1},{"t":2385,"IA":1.1},{"t":2388.3,"IC":-1.1},
{"t":2391.7,"IB":1},{"t":2395,"IA":-1},{"t":2398.3,"IC":1},
{"t":2401.7,"IB":-0.9},{"t":2405,"IA":0.9},{"t":2408.3,"IC":-0.9},
{"t":2411.7,"IB":0.8},{"t":2415,"IA":-0.8},{"t":2418.3,"IC":0.8},
{"t":2421.7,"IB":-0.7},{"t":2425,"IA":0.7},{"t":2428.3,"IC":-0.7},
{"t":2431.7,"IB":0.6},{"t":2435,"IA":-0.6},{"t":2438.3,"IC":0.6},
{"t":2441.7,"IB":-0.5},{"t":2445,"IA":0.5},{"t":2448.3,"IC":-0.5},
{"t":2451.7,"IB":0.4},{"t":2455,"IA":-0.4},{"t":2458.3,"IC":0.4},
{"t":2461.7,"IB":-0.3},{"t":2465,"IA":0.3},{"t":2468.3,"IC":-0.3},
{"t":2471.7,"IB":0.2},{"t":2475,"IA":-0.2},{"t":2478.3,"IC":0.2},
{"t":2481.7,"IB":-0.2},{"t":2485,"IA":0.2},{"t":2488.3,"IC":-0.2}
],
"bins":[{"b":"Bin. in 1"},{"b":"Bin. in 2"},{"b":"Bin. in 3"},{"b":"Bin. in 4"},{"b":"Bin. in 5"},{"b":"Bin. in 6"},{"b":"Bin. in 7"}],
"on":[{"b":"Bin. in 1","s":750,"e":2490},{"b":"Bin. in 2","s":451,"e":2490},{"b":"Bin. in 7","s":418,"e":668}]
},
"spacing":8,
"vconcat":[
{
 "width":1237,"height":10,
 "view":{"fill":"white","stroke":null},
 "data":{"values":[{}]},
 "mark":{"type":"rect","color":"white"},
 "encoding":{
  "x":{"datum":0,"type":"quantitative","scale":{"domain":[0,1]},"axis":null},
  "x2":{"datum":1},
  "y":{"datum":0,"type":"quantitative","scale":{"domain":[0,1]},"axis":null},
  "y2":{"datum":1}
 }
},
{
 "spacing":8,
 "hconcat":[
 {
  "width":42,"height":500,
  "view":{"fill":"white","stroke":null},
  "data":{"values":[{"s":"a)"}]},
  "mark":{"type":"text","font":"Liberation Serif","fontSize":22,"color":"#111","align":"center","baseline":"middle"},
  "encoding":{
   "text":{"field":"s"},
   "x":{"datum":0.4,"type":"quantitative","scale":{"domain":[0,1]},"axis":null},
   "y":{"datum":0.931,"type":"quantitative","scale":{"domain":[0,1]},"axis":null}
  }
 },
 {
  "spacing":23,
  "bounds":"flush",
  "resolve":{"scale":{"x":"independent","y":"independent","color":"independent","strokeDash":"independent"},"legend":{"color":"independent","strokeDash":"independent"}},
  "vconcat":[
  {
   "width":1114,"height":169,
   "view":{"fill":"white","stroke":null},
   "resolve":{"axis":{"x":"independent","y":"independent"}},
   "layer":[
    {
     "data":{"name":"volt"},
     "transform":[{"fold":["VA","VB","VC"],"as":["k","v"]},{"filter":{"field":"v","valid":true}}],
     "mark":{"type":"line","strokeWidth":1.3,"opacity":0.85},
     "encoding":{
      "x":{"field":"t","type":"quantitative","scale":{"domain":[0,2490],"nice":false,"zero":false},"axis":{"values":[250,500,750,1000,1250,1500,1750,2000,2250],"grid":true,"labels":false,"ticks":false,"domain":false,"title":null}},
      "y":{"field":"v","type":"quantitative","scale":{"domain":[-129.7,97.4],"nice":false,"zero":false},"axis":{"orient":"left","values":[-80,-60,-40,-20,0,20,40,60,80],"labelOverlap":false,"labelExpr":"datum.value == 80 ? '' : (datum.value < 0 ? '-' + abs(datum.value) : '' + datum.value)","tickSize":5,"tickColor":"#333","labelPadding":6,"domain":false,"grid":true,"title":"Voltages/V","titleAngle":0,"titleX":-13,"titleY":1,"titleAlign":"right","titleBaseline":"middle"}},
      "color":{"field":"k","type":"nominal","scale":{"domain":["VA","VB","VC"],"range":["#ee2c2c","#0f8b4a","#1c2b6e"]},"legend":{"title":null,"orient":"bottom-left","direction":"horizontal","offset":4,"padding":4,"symbolType":"stroke","symbolSize":2916,"symbolStrokeWidth":2,"symbolOpacity":0.5,"symbolOffset":78,"labelAlign":"left","labelOffset":-128,"columnPadding":21,"labelLimit":200,"labelExpr":"datum.label + '_p_L1: _' + slice(datum.label, 1)"}},
      "strokeDash":{"field":"k","type":"nominal","scale":{"domain":["VA","VB","VC"],"range":[[1,0],[16,7],[10,5,3,5]]},"legend":{"title":null,"orient":"bottom-left","direction":"horizontal","offset":4,"padding":4,"symbolType":"stroke","symbolSize":2916,"symbolStrokeWidth":2,"symbolOpacity":0.5,"symbolOffset":78,"labelAlign":"left","labelOffset":-128,"columnPadding":21,"labelLimit":200,"labelExpr":"datum.label + '_p_L1: _' + slice(datum.label, 1)"}}
     }
    },
    {
     "data":{"values":[{}]},
     "mark":{"type":"rect","color":"white"},
     "encoding":{
      "x":{"datum":0,"type":"quantitative","scale":{"domain":[0,2490],"nice":false,"zero":false},"axis":null},
      "x2":{"datum":2490},
      "y":{"datum":-94.8,"type":"quantitative","scale":{"domain":[-129.7,97.4],"nice":false,"zero":false},"axis":null},
      "y2":{"datum":-129.7}
     }
    },
    {
     "data":{"values":[{}]},
     "mark":{"type":"rule","color":"#a8a8a8","strokeWidth":1.2},
     "encoding":{
      "x":{"datum":0,"type":"quantitative","scale":{"domain":[0,2490],"nice":false,"zero":false},"axis":{"orient":"top","offset":-72.5,"values":[250,500,750,1000,1250,1500,1750,2000,2250],"labelExpr":"format(datum.value / 1000, '.2f')","grid":false,"tickSize":4,"tickColor":"#222","domain":true,"domainColor":"#333","domainWidth":1.2,"labelPadding":7,"title":"t/s","titleX":1112,"titleY":-23,"titleAlign":"right","titleBaseline":"middle","titleAnchor":"end","zindex":1}},
      "x2":{"datum":2490},
      "y":{"datum":-94.8,"type":"quantitative","scale":{"domain":[-129.7,97.4],"nice":false,"zero":false},"axis":null}
     }
    },
    {
     "data":{"values":[{}]},
     "mark":{"type":"rule","color":"#7fb793","strokeWidth":1.5},
     "encoding":{
      "x":{"datum":0,"type":"quantitative","scale":{"domain":[0,2490],"nice":false,"zero":false},"axis":null},
      "y":{"datum":97.4,"type":"quantitative","scale":{"domain":[-129.7,97.4],"nice":false,"zero":false},"axis":null},
      "y2":{"datum":-94.8}
     }
    },
    {
     "data":{"values":[{}]},
     "mark":{"type":"rule","color":"#1cb4cc","strokeWidth":2.5},
     "encoding":{
      "x":{"datum":2490,"type":"quantitative","scale":{"domain":[0,2490],"nice":false,"zero":false},"axis":null},
      "y":{"datum":97.4,"type":"quantitative","scale":{"domain":[-129.7,97.4],"nice":false,"zero":false},"axis":null},
      "y2":{"datum":-94.8}
     }
    }
   ]
  },
  {
   "width":1114,"height":168,
   "view":{"fill":"white","stroke":null},
   "resolve":{"axis":{"x":"independent","y":"independent"}},
   "layer":[
    {
     "data":{"name":"curr"},
     "transform":[{"fold":["IA","IB","IC"],"as":["k","v"]},{"filter":{"field":"v","valid":true}}],
     "mark":{"type":"line","strokeWidth":1.3,"opacity":0.9},
     "encoding":{
      "x":{"field":"t","type":"quantitative","scale":{"domain":[0,2490],"nice":false,"zero":false},"axis":{"values":[250,500,750,1000,1250,1500,1750,2000,2250],"grid":true,"labels":false,"ticks":false,"domain":false,"title":null}},
      "y":{"field":"v","type":"quantitative","scale":{"domain":[-11.66,9.72],"nice":false,"zero":false},"axis":{"orient":"left","values":[-8,-6,-4,-2,0,2,4,6,8],"labelOverlap":false,"labelExpr":"datum.value == 8 ? '' : (datum.value < 0 ? '-' + abs(datum.value) : '' + datum.value)","tickSize":5,"tickColor":"#333","labelPadding":6,"domain":false,"grid":true,"title":"Currents/A","titleAngle":0,"titleX":-13,"titleY":1,"titleAlign":"right","titleBaseline":"middle"}},
      "color":{"field":"k","type":"nominal","scale":{"domain":["IA","IB","IC"],"range":["#ee2c2c","#0f8b4a","#1c2b6e"]},"legend":{"title":null,"orient":"bottom-left","direction":"horizontal","offset":4,"padding":4,"symbolType":"stroke","symbolSize":2916,"symbolStrokeWidth":1.5,"symbolOffset":78,"labelAlign":"left","labelOffset":-128,"columnPadding":21,"labelLimit":200,"labelExpr":"datum.label + '_p_L1: _' + slice(datum.label, 1)"}},
      "strokeDash":{"field":"k","type":"nominal","scale":{"domain":["IA","IB","IC"],"range":[[1,0],[16,7],[10,5,3,5]]},"legend":{"title":null,"orient":"bottom-left","direction":"horizontal","offset":4,"padding":4,"symbolType":"stroke","symbolSize":2916,"symbolStrokeWidth":1.5,"symbolOffset":78,"labelAlign":"left","labelOffset":-128,"columnPadding":21,"labelLimit":200,"labelExpr":"datum.label + '_p_L1: _' + slice(datum.label, 1)"}}
     }
    },
    {
     "data":{"values":[{}]},
     "mark":{"type":"rect","color":"white"},
     "encoding":{
      "x":{"datum":0,"type":"quantitative","scale":{"domain":[0,2490],"nice":false,"zero":false},"axis":null},
      "x2":{"datum":2490},
      "y":{"datum":-8.41,"type":"quantitative","scale":{"domain":[-11.66,9.72],"nice":false,"zero":false},"axis":null},
      "y2":{"datum":-11.66}
     }
    },
    {
     "data":{"values":[{}]},
     "mark":{"type":"rule","color":"#a8a8a8","strokeWidth":1.2},
     "encoding":{
      "x":{"datum":0,"type":"quantitative","scale":{"domain":[0,2490],"nice":false,"zero":false},"axis":{"orient":"top","offset":-76.4,"values":[250,500,750,1000,1250,1500,1750,2000,2250],"labelExpr":"format(datum.value / 1000, '.2f')","grid":false,"tickSize":4,"tickColor":"#222","domain":true,"domainColor":"#333","domainWidth":1.2,"labelPadding":8,"title":"t/s","titleX":1112,"titleY":-23,"titleAlign":"right","titleBaseline":"middle","titleAnchor":"end","zindex":1}},
      "x2":{"datum":2490},
      "y":{"datum":-8.41,"type":"quantitative","scale":{"domain":[-11.66,9.72],"nice":false,"zero":false},"axis":null}
     }
    },
    {
     "data":{"values":[{}]},
     "mark":{"type":"rule","color":"#8cc28a","strokeWidth":1.5},
     "encoding":{
      "x":{"datum":0,"type":"quantitative","scale":{"domain":[0,2490],"nice":false,"zero":false},"axis":null},
      "y":{"datum":9.72,"type":"quantitative","scale":{"domain":[-11.66,9.72],"nice":false,"zero":false},"axis":null},
      "y2":{"datum":-8.41}
     }
    },
    {
     "data":{"values":[{}]},
     "mark":{"type":"rule","color":"#1cb4cc","strokeWidth":2.5},
     "encoding":{
      "x":{"datum":2490,"type":"quantitative","scale":{"domain":[0,2490],"nice":false,"zero":false},"axis":null},
      "y":{"datum":9.72,"type":"quantitative","scale":{"domain":[-11.66,9.72],"nice":false,"zero":false},"axis":null},
      "y2":{"datum":-8.41}
     }
    }
   ]
  },
  {
   "width":1114,"height":88,
   "view":{"fill":"white","stroke":null},
   "layer":[
    {
     "data":{"name":"bins"},
     "mark":{"type":"rule","strokeWidth":1.3},
     "encoding":{
      "x":{"datum":0,"type":"quantitative","scale":{"domain":[0,2490],"nice":false,"zero":false},"axis":{"orient":"bottom","values":[0,250,500,750,1000,1250,1500,1750,2000,2250],"labelExpr":"datum.value == 0 ? '' : format(datum.value / 1000, '.2f')","grid":true,"tickSize":4,"tickColor":"#000","tickWidth":1.5,"domain":true,"domainColor":"#000","labelPadding":7,"title":"t/s","titleX":1112,"titleY":21,"titleAlign":"right","titleBaseline":"middle","titleAnchor":"end"}},
      "x2":{"datum":2490},
      "y":{"field":"b","type":"nominal","scale":{"type":"band","domain":["Bin. in 1","Bin. in 2","Bin. in 3","Bin. in 4","Bin. in 5","Bin. in 6","Bin. in 7"],"paddingInner":0.52,"paddingOuter":0.24},"axis":{"title":null,"ticks":false,"domain":false,"grid":false,"labelPadding":11,"labelFontSize":11}},
      "color":{"field":"b","type":"nominal","scale":{"domain":["Bin. in 1","Bin. in 2","Bin. in 3","Bin. in 4","Bin. in 5","Bin. in 6","Bin. in 7"],"range":["#111","#777","#111","#777","#111","#777","#111"]},"legend":null}
     }
    },
    {
     "data":{"name":"on"},
     "mark":{"type":"rect","fill":"#f9bb8e","stroke":"#333","strokeWidth":1},
     "encoding":{
      "x":{"field":"s","type":"quantitative","scale":{"domain":[0,2490],"nice":false,"zero":false}},
      "x2":{"field":"e"},
      "y":{"field":"b","type":"nominal","scale":{"type":"band","domain":["Bin. in 1","Bin. in 2","Bin. in 3","Bin. in 4","Bin. in 5","Bin. in 6","Bin. in 7"],"paddingInner":0.52,"paddingOuter":0.24}}
     }
    },
    {
     "data":{"values":[{}]},
     "mark":{"type":"rule","color":"#7fb793","strokeWidth":1.5},
     "encoding":{
      "x":{"datum":0,"type":"quantitative","scale":{"domain":[0,2490],"nice":false,"zero":false}}
     }
    },
    {
     "data":{"values":[{}]},
     "mark":{"type":"rule","color":"#1cb4cc","strokeWidth":2.5},
     "encoding":{
      "x":{"datum":2490,"type":"quantitative","scale":{"domain":[0,2490],"nice":false,"zero":false}}
     }
    }
   ]
  }
  ]
 }
 ]
}
]
}
